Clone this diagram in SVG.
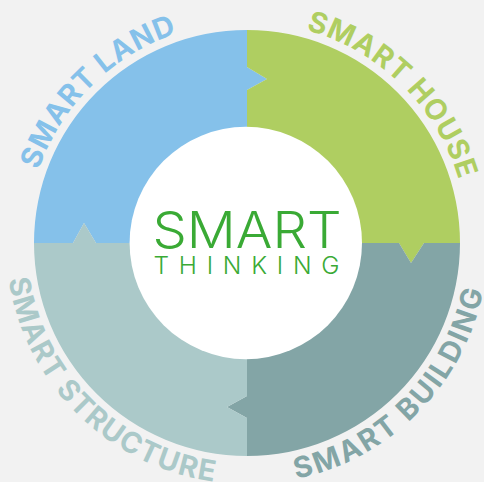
<svg xmlns="http://www.w3.org/2000/svg" width="484" height="482" viewBox="0 0 484 482">
<style>
.lbl{font-family:"Inter","Liberation Sans",sans-serif;font-weight:700;font-size:29px;text-anchor:middle}
.top{letter-spacing:.8px}
.logo{font-family:"Inter","Liberation Sans",sans-serif;fill:#3aaa35;text-anchor:middle}
</style>
<defs>
<path id="arcTop" d="M55.6 132.5A221 221 0 0 1 438.4 132.5"/>
<path id="arcBottom" d="M38.3 363.5A241 241 0 0 0 455.7 363.5"/>
</defs>
<rect width="484" height="482" fill="#f2f2f2"/>
<g id="connectors"/>
<g id="smart-land">
<path fill="#85c1ea" d="M34 243A213 213 0 0 1 247 30V67L267 79L247 90V133A110 110 0 0 0 137 243H96L84 223L73 243Z"/>
<text class="lbl top" fill="#85c1ea" transform="rotate(-44.5 247 243)"><textPath href="#arcTop" startOffset="50%">SMART LAND</textPath></text>
</g>
<g id="smart-house">
<path fill="#afce61" d="M247 30A213 213 0 0 1 460 243H424L411 263L399 243H357A110 110 0 0 0 247 133V90L267 79L247 67Z"/>
<text class="lbl top" fill="#afce61" transform="rotate(44.5 247 243)"><textPath href="#arcTop" startOffset="50%">SMART HOUSE</textPath></text>
</g>
<g id="smart-building">
<path fill="#83a5a6" d="M460 243A213 213 0 0 1 247 456V418L227 407L247 396V353A110 110 0 0 0 357 243H399L411 263L424 243Z"/>
<text class="lbl" style="letter-spacing:2.3px" fill="#83a5a6" transform="rotate(-45.5 247 243)"><textPath href="#arcBottom" startOffset="50%">SMART BUILDING</textPath></text>
</g>
<g id="smart-structure">
<path fill="#abc9c9" d="M247 456A213 213 0 0 1 34 243H73L84 223L96 243H137A110 110 0 0 0 247 353V396L227 407L247 418Z"/>
<text class="lbl" style="letter-spacing:1.3px" fill="#abc9c9" transform="rotate(44.5 247 243)"><textPath href="#arcBottom" startOffset="50%">SMART STRUCTURE</textPath></text>
</g>
<g id="smart-thinking">
<circle cx="245.8" cy="243" r="116.2" fill="#fff"/>
<text class="logo" x="247" y="248" font-size="50" font-weight="350" textLength="189" lengthAdjust="spacingAndGlyphs">SMART</text>
<text class="logo" x="246.5" y="274" font-size="24.5" font-weight="300" textLength="186" lengthAdjust="spacing">THINKING</text>
</g>
</svg>
